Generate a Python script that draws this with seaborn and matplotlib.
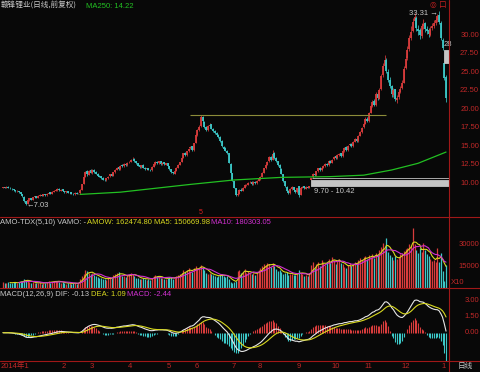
import numpy as np
import pandas as pd
import matplotlib
matplotlib.use('Agg')
import matplotlib.pyplot as plt
import matplotlib.transforms as mtransforms
from matplotlib.lines import Line2D
import seaborn as sns

# 日线数据 (2014-01 .. 2015-01)
opens = [9.40, 9.48, 9.36, 9.52, 9.40, 9.28, 9.20, 9.08, 8.90, 8.98,
         8.78, 8.50, 8.20, 7.55, 7.22, 7.72, 7.98, 7.78, 8.12, 8.28,
         8.02, 8.30, 8.48, 8.28, 8.52, 8.38, 8.60, 8.78, 8.58, 8.86,
         9.02, 9.08, 9.28, 9.02, 9.18, 8.96, 8.78, 8.92, 8.68, 8.78,
         8.62, 8.52, 8.72, 8.56, 8.64, 9.12, 9.95, 10.85, 11.60, 11.15,
         11.75, 11.40, 11.85, 11.58, 11.32, 10.95, 10.92, 10.72, 10.48, 10.38,
         10.66, 10.92, 11.25, 11.02, 11.52, 11.82, 12.15, 11.88, 12.42, 12.28,
         12.62, 12.42, 12.82, 12.88, 13.22, 13.30, 12.98, 12.72, 12.42, 12.18,
         12.48, 12.12, 11.88, 12.08, 11.86, 11.78, 12.22, 12.58, 12.88, 12.68,
         12.98, 12.58, 12.82, 12.52, 12.72, 12.32, 11.92, 11.52, 11.32, 11.72,
         12.12, 12.52, 12.88, 13.42, 14.10, 13.78, 14.32, 14.75, 15.00, 14.48,
         15.45, 16.55, 17.25, 17.70, 18.95, 18.35, 17.58, 17.18, 17.72, 17.95,
         17.38, 17.02, 16.85, 16.48, 16.32, 15.72, 14.95, 14.72, 14.38, 14.05,
         12.65, 11.40, 10.30, 9.30, 8.40, 8.62, 9.15, 8.98, 9.42, 9.78,
         9.82, 10.12, 10.22, 9.88, 10.18, 9.98, 10.32, 10.58, 10.85, 11.42,
         12.05, 12.52, 12.95, 13.55, 13.18, 14.05, 13.38, 12.98, 12.52, 11.98,
         11.25, 10.25, 9.55, 8.95, 8.65, 9.22, 9.48, 9.08, 8.78, 9.60,
         8.45, 9.38, 9.58, 9.28, 9.52, 9.38, 10.45, 10.80, 11.28, 11.08,
         11.62, 12.05, 11.78, 12.12, 12.32, 12.65, 12.42, 13.05, 12.78, 13.22,
         13.65, 13.38, 13.82, 14.05, 13.68, 14.32, 14.85, 14.48, 15.12, 15.35,
         14.98, 15.62, 16.05, 15.68, 16.42, 16.92, 17.55, 18.05, 18.75, 18.38,
         19.55, 20.45, 21.10, 20.55, 22.10, 21.45, 22.70, 24.60, 25.90, 26.70,
         25.10, 23.90, 23.10, 21.90, 22.70, 21.30, 21.60, 22.40, 22.90, 23.60,
         25.60, 26.90, 28.10, 29.70, 30.60, 31.90, 32.40, 30.90, 30.70, 29.90,
         31.30, 31.60, 30.90, 30.70, 30.10, 31.00, 31.30, 31.70, 32.10, 32.70,
         31.70, 29.40, 26.20, 24.40]

closes = [9.45, 9.38, 9.50, 9.42, 9.30, 9.22, 9.05, 8.92, 8.98, 8.80,
          8.52, 8.25, 7.60, 7.25, 7.70, 7.95, 7.80, 8.10, 8.25, 8.05,
          8.30, 8.45, 8.30, 8.50, 8.40, 8.62, 8.75, 8.60, 8.85, 9.00,
          9.10, 9.25, 9.05, 9.15, 8.95, 8.80, 8.90, 8.70, 8.75, 8.60,
          8.55, 8.70, 8.58, 8.62, 9.10, 9.90, 10.80, 11.50, 11.20, 11.70,
          11.45, 11.80, 11.55, 11.30, 11.00, 10.90, 10.70, 10.50, 10.40, 10.65,
          10.90, 11.20, 11.05, 11.50, 11.80, 12.10, 11.90, 12.40, 12.30, 12.60,
          12.45, 12.80, 12.90, 13.20, 13.35, 12.95, 12.70, 12.40, 12.20, 12.45,
          12.10, 11.90, 12.05, 11.85, 11.80, 12.20, 12.55, 12.85, 12.70, 12.95,
          12.60, 12.80, 12.55, 12.70, 12.35, 11.90, 11.50, 11.35, 11.70, 12.10,
          12.50, 12.85, 13.40, 14.05, 13.80, 14.30, 14.70, 14.95, 14.50, 15.40,
          16.50, 17.20, 17.65, 18.90, 18.40, 17.60, 17.20, 17.70, 17.90, 17.40,
          17.00, 16.80, 16.50, 16.30, 15.70, 15.00, 14.70, 14.40, 14.10, 12.70,
          11.45, 10.35, 9.35, 8.45, 8.60, 9.10, 9.00, 9.40, 9.75, 9.80,
          10.10, 10.20, 9.90, 10.15, 10.00, 10.30, 10.55, 10.80, 11.40, 12.00,
          12.50, 12.90, 13.50, 13.20, 14.00, 13.40, 13.00, 12.50, 12.00, 11.30,
          10.30, 9.60, 9.00, 8.70, 9.20, 9.45, 9.10, 8.80, 9.30, 8.40,
          9.35, 9.55, 9.30, 9.50, 9.40, 9.62, 10.65, 11.25, 11.10, 11.60,
          12.00, 11.80, 12.10, 12.30, 12.60, 12.45, 13.00, 12.80, 13.20, 13.60,
          13.40, 13.80, 14.00, 13.70, 14.30, 14.80, 14.50, 15.10, 15.30, 15.00,
          15.60, 16.00, 15.70, 16.40, 16.90, 17.50, 18.00, 18.70, 18.40, 19.50,
          20.40, 21.00, 20.60, 22.00, 21.50, 22.60, 24.50, 25.80, 26.60, 25.20,
          24.00, 23.20, 22.00, 22.60, 21.40, 21.50, 22.30, 22.80, 23.50, 25.50,
          26.80, 28.00, 29.60, 30.50, 31.80, 32.50, 31.00, 30.60, 30.00, 31.20,
          31.50, 30.80, 30.60, 30.20, 30.90, 31.20, 31.60, 32.00, 32.60, 31.80,
          29.70, 28.30, 24.20, 21.50]

highs = [9.55, 9.56, 9.58, 9.60, 9.46, 9.35, 9.26, 9.12, 9.06, 9.02,
         8.82, 8.56, 8.24, 7.62, 7.78, 8.05, 8.06, 8.18, 8.34, 8.32,
         8.38, 8.52, 8.55, 8.58, 8.60, 8.70, 8.84, 8.82, 8.92, 9.08,
         9.20, 9.34, 9.32, 9.22, 9.22, 9.00, 8.96, 8.95, 8.82, 8.82,
         8.68, 8.76, 8.76, 8.68, 9.18, 9.95, 10.85, 11.70, 11.80, 11.82,
         11.90, 11.92, 11.95, 11.65, 11.40, 11.08, 11.00, 10.80, 10.58, 10.72,
         10.98, 11.28, 11.32, 11.58, 11.90, 12.20, 12.22, 12.48, 12.55, 12.68,
         12.72, 12.88, 13.02, 13.30, 13.52, 13.38, 13.02, 12.78, 12.48, 12.52,
         12.55, 12.18, 12.12, 12.12, 11.92, 12.28, 12.62, 12.95, 12.98, 13.05,
         13.02, 12.88, 12.86, 12.78, 12.76, 12.36, 11.96, 11.58, 11.78, 12.18,
         12.58, 12.94, 13.48, 14.15, 14.25, 14.40, 14.82, 15.10, 15.08, 15.50,
         16.62, 17.40, 17.90, 19.22, 19.10, 18.45, 17.70, 17.85, 18.10, 18.05,
         17.45, 17.15, 16.92, 16.60, 16.38, 15.80, 15.10, 14.85, 14.50, 14.10,
         12.70, 11.45, 10.35, 9.35, 8.80, 9.22, 9.30, 9.50, 9.86, 9.95,
         10.22, 10.35, 10.28, 10.25, 10.26, 10.40, 10.66, 10.92, 11.50, 12.12,
         12.65, 13.05, 13.70, 13.75, 14.55, 14.20, 13.50, 13.05, 12.60, 12.05,
         11.30, 10.35, 9.62, 9.05, 9.30, 9.58, 9.55, 9.15, 9.40, 9.70,
         9.45, 9.65, 9.66, 9.60, 9.62, 9.70, 10.70, 11.35, 11.40, 11.70,
         12.12, 12.15, 12.20, 12.42, 12.72, 12.75, 13.10, 13.15, 13.30, 13.72,
         13.75, 13.92, 14.15, 14.12, 14.42, 14.95, 14.98, 15.22, 15.45, 15.45,
         15.72, 16.15, 16.15, 16.55, 17.05, 17.65, 18.20, 18.90, 18.95, 19.70,
         20.60, 21.30, 21.40, 22.30, 22.40, 22.90, 24.80, 26.20, 27.30, 26.90,
         25.40, 24.30, 23.30, 22.90, 22.80, 21.90, 22.60, 23.20, 23.90, 25.80,
         27.20, 28.50, 30.00, 31.20, 32.40, 33.00, 32.60, 31.40, 31.00, 31.60,
         32.20, 31.80, 31.20, 31.00, 31.20, 31.60, 32.00, 32.40, 32.90, 33.31,
         31.90, 29.60, 26.30, 24.60]

lows = [9.32, 9.30, 9.30, 9.36, 9.22, 9.12, 9.00, 8.85, 8.84, 8.74,
        8.45, 8.18, 7.52, 7.03, 7.15, 7.65, 7.72, 7.74, 8.05, 7.98,
        7.98, 8.24, 8.24, 8.22, 8.34, 8.32, 8.54, 8.55, 8.52, 8.80,
        8.96, 9.02, 8.98, 8.96, 8.90, 8.74, 8.72, 8.64, 8.62, 8.55,
        8.48, 8.48, 8.52, 8.50, 8.60, 9.10, 9.92, 10.80, 11.05, 11.10,
        11.35, 11.30, 11.45, 11.22, 10.92, 10.80, 10.62, 10.42, 10.30, 10.32,
        10.60, 10.86, 10.98, 10.98, 11.45, 11.76, 11.84, 11.82, 12.22, 12.22,
        12.38, 12.36, 12.74, 12.82, 13.15, 12.88, 12.62, 12.32, 12.12, 12.10,
        12.02, 11.82, 11.80, 11.78, 11.70, 11.72, 12.16, 12.50, 12.62, 12.62,
        12.52, 12.52, 12.48, 12.46, 12.28, 11.82, 11.42, 11.25, 11.26, 11.66,
        12.06, 12.46, 12.82, 13.36, 13.70, 13.70, 14.25, 14.62, 14.40, 14.42,
        15.40, 16.45, 17.10, 17.60, 18.20, 17.45, 17.05, 17.10, 17.60, 17.30,
        16.88, 16.70, 16.40, 16.15, 15.60, 14.90, 14.55, 14.30, 13.95, 12.69,
        11.43, 10.30, 9.32, 8.30, 8.25, 8.55, 8.90, 8.92, 9.35, 9.66,
        9.75, 10.02, 9.82, 9.80, 9.92, 9.92, 10.25, 10.50, 10.80, 11.35,
        11.95, 12.42, 12.88, 13.05, 13.10, 13.30, 12.88, 12.40, 11.90, 11.20,
        10.20, 9.50, 8.90, 8.55, 8.58, 9.15, 9.02, 8.70, 8.72, 8.15,
        8.40, 9.30, 9.22, 9.20, 9.32, 9.30, 10.42, 10.76, 11.00, 11.02,
        11.55, 11.70, 11.70, 12.02, 12.25, 12.35, 12.38, 12.70, 12.70, 13.15,
        13.30, 13.30, 13.72, 13.60, 13.62, 14.25, 14.40, 14.40, 15.02, 14.90,
        14.90, 15.55, 15.60, 15.60, 16.35, 16.85, 17.45, 17.95, 18.25, 18.30,
        19.45, 20.30, 20.40, 20.45, 21.30, 21.35, 22.60, 24.40, 25.60, 24.90,
        23.70, 22.90, 21.70, 21.60, 21.10, 20.80, 21.40, 22.20, 22.70, 23.50,
        25.40, 26.70, 27.90, 29.40, 30.40, 31.50, 30.60, 30.10, 29.50, 29.70,
        30.90, 30.50, 30.20, 29.80, 29.90, 30.70, 31.00, 31.40, 31.80, 31.50,
        29.40, 28.05, 24.00, 21.00]

# 成交额 (X10)
volumes = [4200, 3800, 3500, 4100, 3600, 3300, 4500, 3900, 3200, 4000,
           4800, 5200, 6100, 5600, 4900, 4300, 3700, 4100, 3500, 3200,
           3600, 3900, 3100, 3400, 3800, 4200, 4600, 3700, 4400, 4900,
           5100, 4700, 4300, 3600, 3900, 3400, 3100, 3500, 3300, 2900,
           3200, 3600, 3000, 3400, 6500, 8200, 9800, 12700, 11800, 10400,
           9600, 10600, 9200, 8100, 7600, 6800, 7300, 6500, 6200, 5800,
           6900, 7800, 7100, 8800, 9600, 10200, 11500, 9300, 8700, 8200,
           7600, 8900, 9400, 10600, 9800, 8400, 7300, 6900, 6200, 6600,
           7000, 6400, 5900, 6300, 5800, 7200, 8500, 9300, 8100, 7400,
           6900, 7200, 6100, 6500, 7000, 7800, 7400, 6300, 6800, 8400,
           9200, 10100, 10800, 12400, 11200, 12800, 13600, 12100, 11000, 13900,
           15000, 14200, 13500, 16100, 14800, 12300, 10600, 9800, 10400, 9600,
           8800, 8200, 7900, 8500, 9400, 9900, 8700, 7600, 8100, 6200,
           4300, 3600, 3900, 5200, 11800, 12600, 10400, 11200, 12900, 10800,
           11900, 10200, 9600, 10800, 9300, 11400, 12600, 13800, 15200, 16400,
           15800, 17200, 16800, 14900, 17500, 15600, 13200, 11800, 12400, 10900,
           9800, 10600, 11200, 9400, 10100, 9600, 8800, 9200, 10300, 12600,
           10800, 9500, 8700, 9400, 8600, 10200, 15800, 18400, 14200, 16600,
           17800, 15200, 19600, 17400, 16100, 18200, 20500, 17600, 21900, 19800,
           16800, 18600, 20200, 17300, 16400, 14800, 13600, 15900, 17200, 15100,
           16900, 18300, 17600, 19200, 20800, 19500, 21300, 22400, 20100, 23000,
           21800, 23600, 20900, 24500, 22700, 26800, 28400, 31200, 27600, 34800,
           25400, 23200, 21800, 19600, 22400, 20100, 21500, 23800, 24600, 26000,
           27400, 27800, 30500, 29600, 41700, 30800, 26400, 24200, 27600, 25000,
           31300, 26800, 23600, 22100, 20500, 18800, 19200, 18468, 28000, 18000,
           24500, 11988, 4600, 16247.48]

# MA250 折线
ma250_idx = [44, 67, 107, 132, 159, 187, 206, 222, 237, 253]
ma250_val = [8.5, 8.8, 9.85, 10.45, 10.8, 10.9, 11.1, 11.8, 12.7, 14.22]

# 缺口: (起始K线, 下沿, 上沿)
gaps = [(176, 9.70, 10.42), (177, 10.70, 10.76), (252, 26.30, 28.05)]

month_starts = [0, 33, 49, 71, 93, 109, 130, 145, 167, 187, 206, 227, 250]
month_labels = ['2014年1', '2', '3', '4', '5', '6', '7', '8', '9', '10', '11', '12', '1']

price_ticks = [10, 12.5, 15, 17.5, 20, 22.5, 25, 27.5, 30]
vol_ticks = [15000, 30000]
macd_ticks = [0, 1.5, 3]

BG = '#080808'
FRAME = '#a01818'
RED = '#d83c3c'
CYAN = '#3cc8c8'
YELLOW = '#d8d820'
MAGENTA = '#d030d0'
GREEN = '#22c022'
LABEL = '#c02828'
WHITE = '#c8c8c8'

sns.set_style('dark', {'axes.facecolor': BG, 'figure.facecolor': BG})
plt.rcParams['font.family'] = ['Liberation Sans', 'Noto Sans CJK SC', 'DejaVu Sans']
plt.rcParams['axes.unicode_minus'] = False

W, H = 480, 372


def fx(px):
    return px / W


def fy(py):
    return 1 - py / H


fig = plt.figure(figsize=(W / 100, H / 100), dpi=100)
fig.patch.set_facecolor(BG)

ax_main = fig.add_axes([0, fy(216), fx(449), 216 / H])
ax_vol = fig.add_axes([0, fy(288), fx(449), 71 / H])
ax_macd = fig.add_axes([0, fy(361), fx(449), 73 / H])

idx = np.arange(len(closes))
o = np.array(opens)
c = np.array(closes)
up = c >= o
cols = np.where(up, RED, CYAN)
xlim = (-1.71, 254.7)

# K线
ax_main.vlines(idx, lows, highs, colors=cols, lw=0.55)
ax_main.vlines(idx, np.minimum(o, c), np.maximum(o, c), colors=cols, lw=1.3)
sns.lineplot(x=ma250_idx, y=ma250_val, ax=ax_main, color=GREEN, lw=0.9)

# 压力线
ax_main.hlines(highs[113], 107, 219, color='#8c8c3a', lw=0.8)

# 缺口
for gi, lo, hi in gaps:
    ax_main.fill_between([gi - 0.3, xlim[1]], lo, hi, color='#c4c4c4', lw=0.6,
                         edgecolor='#c4c4c4', zorder=4)
    if gi > 200:
        ax_main.text(gi - 0.6, hi + 0.25, f'{hi:.0f}', color=WHITE, fontsize=5.5,
                     ha='left', va='bottom', zorder=5)
    else:
        ax_main.text(gi + 1.5, lo - 0.35, f'{lo:.2f} - {hi:.2f}', color=WHITE,
                     fontsize=5.5, ha='left', va='top', zorder=3, clip_on=True)

hi_i = int(np.argmax(highs))
lo_i = int(np.argmin(lows))
ax_main.text(hi_i - 0.8, highs[hi_i] - 0.35, f'{highs[hi_i]:.2f} \u2192', color=WHITE,
             fontsize=5.5, ha='right', va='center')
ax_main.text(lo_i + 0.5, lows[lo_i], f'\u2190{lows[lo_i]:.2f}', color=WHITE,
             fontsize=5.5, ha='left', va='center')
ax_main.text(113, 6.1, '5', color='#e02020', fontsize=5, ha='center', va='center')

ax_main.set_ylim(5.58, 34.77)

# 成交额
ax_vol.vlines(idx, 0, volumes, colors=cols, lw=0.9)
vs = pd.Series(volumes)
sns.lineplot(x=idx, y=vs.rolling(5).mean(), ax=ax_vol, color=YELLOW, lw=0.8)
sns.lineplot(x=idx, y=vs.rolling(10).mean(), ax=ax_vol, color=MAGENTA, lw=0.8)
ax_vol.set_ylim(0, 49500)

# MACD
s = pd.Series(closes)
dif = s.ewm(span=12, adjust=False).mean() - s.ewm(span=26, adjust=False).mean()
dea = dif.ewm(span=9, adjust=False).mean()
hist = 2 * (dif - dea)
ax_macd.vlines(idx, 0, hist, colors=np.where(hist >= 0, RED, CYAN), lw=0.8)
sns.lineplot(x=idx, y=dif, ax=ax_macd, color='#e6e6e6', lw=0.8)
sns.lineplot(x=idx, y=dea, ax=ax_macd, color=YELLOW, lw=0.8)
ax_macd.set_ylim(-2.65, 4.19)

for ax in (ax_main, ax_vol, ax_macd):
    ax.set_xlim(*xlim)
    ax.set_facecolor(BG)
    ax.set(xlabel='', ylabel='')
    ax.set_yticks([])
    ax.grid(False)
    for sp in ax.spines.values():
        sp.set_visible(False)
    if ax is not ax_macd:
        ax.set_xticks([])

# 第一个月份从左边框开始, 不画刻度线
ax_macd.set_xticks(month_starts[1:])
ax_macd.tick_params(axis='x', length=8, width=0.8, color=FRAME, direction='out',
                    labelbottom=False)


# 右侧刻度
def right_labels(ax, vals, fmt):
    tr = mtransforms.blended_transform_factory(ax.transAxes, ax.transData)
    for v in vals:
        ax.text(479 / 449, v, fmt.format(v), transform=tr, ha='right', va='center',
                color=LABEL, fontsize=5.5, clip_on=False)


right_labels(ax_main, price_ticks, '{:.2f}')
right_labels(ax_vol, vol_ticks, '{:.0f}')
right_labels(ax_macd, macd_ticks, '{:.2f}')

# 月份标签
trx = mtransforms.blended_transform_factory(ax_macd.transData, ax_macd.transAxes)
for m, lab in zip(month_starts, month_labels):
    xpos = m + 0.6 if m > 0 else -1.2
    ax_macd.text(xpos, -5 / 73, lab, transform=trx, ha='left', va='center',
                 color=LABEL, fontsize=5.5, clip_on=False)

# 框线
for yy in (216.5, 288, 361):
    fig.add_artist(Line2D([0, 1], [fy(yy)] * 2, color=FRAME, lw=0.8,
                          transform=fig.transFigure))
fig.add_artist(Line2D([fx(448.5)] * 2, [0, 1], color=FRAME, lw=0.8,
                      transform=fig.transFigure))


# 标题与指标文字
def ftext(px, py, s, color, **kw):
    fig.text(fx(px), fy(py), s, color=color, fontsize=5.5, va='center', ha='left', **kw)


ftext(1, 6, '赣锋锂业(日线,前复权)', WHITE, family=['Noto Sans CJK SC', 'DejaVu Sans'])
ftext(86, 6, 'MA250: 14.22', GREEN)
ftext(430, 5, '◎ 口', '#c02020', family=['DejaVu Sans', 'Noto Sans CJK SC'])

ftext(0, 223, 'AMO-TDX(5,10) VAMO: -', WHITE)
ftext(87, 223, 'AMOW: 162474.80', YELLOW)
ftext(154, 223, 'MA5: 150669.98', YELLOW)
ftext(211, 223, 'MA10: 180303.05', MAGENTA)
ftext(451, 283, 'X10', LABEL)

ftext(0, 294, 'MACD(12,26,9) DIF: -0.13', WHITE)
ftext(91, 294, 'DEA: 1.09', YELLOW)
ftext(127, 294, 'MACD: -2.44', MAGENTA)

ftext(458, 366, '日线', WHITE, family=['Noto Sans CJK SC', 'DejaVu Sans'])

fig.savefig('out.png', dpi=100, facecolor=BG)
